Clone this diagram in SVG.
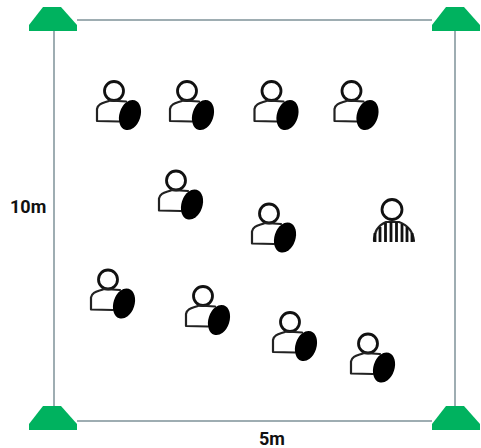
<svg xmlns="http://www.w3.org/2000/svg" width="481" height="448" viewBox="0 0 481 448">
<style>
.l{stroke:#7f9299;stroke-width:1.5;fill:none}
.c{fill:#00b25f}
.t{font-family:Roboto,"Liberation Sans",sans-serif;font-weight:700;font-size:18px;fill:#111}
.s{fill:none;stroke:#111;stroke-width:2.800;stroke-linecap:round;stroke-linejoin:round}
.b{fill:none;stroke:#222;stroke-width:2.200;stroke-linecap:round;stroke-linejoin:round}
.r{fill:none;stroke:#111;stroke-width:2.800}
</style>
<defs>
<polygon id="cone" points="-24,24 -24,18 -10,0 8,0 24,18 24,24" class="c"/>
<g id="player">
<circle cx="-16" cy="-24" r="9.500" class="s"/>
<path d="M-4,-13.500 L-20,-14.500 C-26,-12 -32,-12 -33,-6 L-33,6 L-11,6.500" class="b"/>
<ellipse cx="0" cy="0" rx="10.500" ry="15.500" transform="rotate(18)" fill="#000"/>
</g>
</defs>
<rect width="481" height="448" fill="#fff"/>
<g id="connectors">
<path class="l" d="M54,31V406M455,31V406M77,20H432M77,421H432"/>
</g>
<g id="cone-tl"><use href="#cone" x="53" y="7"/></g>
<g id="cone-tr"><use href="#cone" x="456" y="7"/></g>
<g id="cone-bl"><use href="#cone" x="53" y="406"/></g>
<g id="cone-br"><use href="#cone" x="456" y="406"/></g>
<g id="player-1"><use href="#player" x="130" y="115"/></g>
<g id="player-2"><use href="#player" x="203" y="115"/></g>
<g id="player-3"><use href="#player" x="287.500" y="115"/></g>
<g id="player-4"><use href="#player" x="367.500" y="115"/></g>
<g id="player-5"><use href="#player" x="192" y="204.500"/></g>
<g id="player-6"><use href="#player" x="285" y="237.500"/></g>
<g id="player-7"><use href="#player" x="124" y="303.500"/></g>
<g id="player-8"><use href="#player" x="219" y="320"/></g>
<g id="player-9"><use href="#player" x="306" y="346"/></g>
<g id="player-10"><use href="#player" x="384" y="367.500"/></g>
<g id="referee">
<circle cx="392" cy="209.500" r="10" class="s"/>
<path class="b" d="M374,241 C374,230 379,225 386,222 H399 C407,225 413,231 414,241"/>
<path class="r" d="M375,233V242M380,227V242M385.500,223V242M391,222V242M396.500,222V242M402,224V242M407,227V242M412,233V242"/>
</g>
<g id="label-10m"><text class="t" x="10" y="213">10m</text></g>
<g id="label-5m"><text class="t" x="259" y="445">5m</text></g>
</svg>
